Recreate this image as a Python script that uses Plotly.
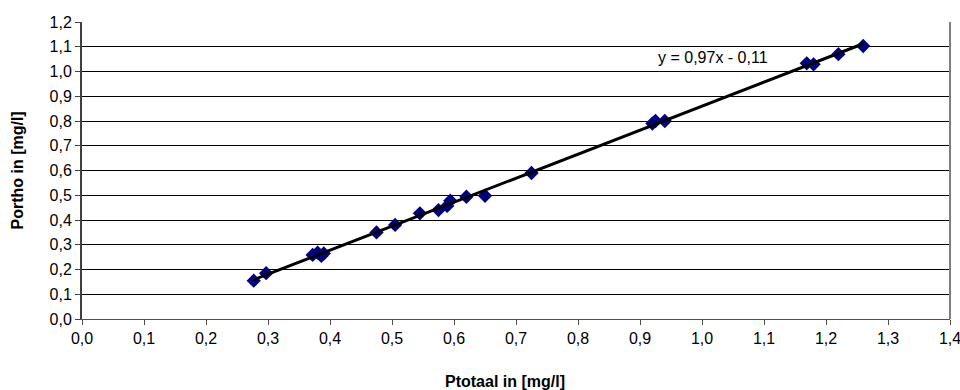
import plotly.graph_objects as go

# Measured total phosphorus vs. orthophosphate (mg/l)
ptotaal = [0.277, 0.297, 0.372, 0.38, 0.386, 0.39, 0.475, 0.505, 0.545, 0.575,
           0.589, 0.594, 0.62, 0.65, 0.725, 0.92, 0.925, 0.94, 1.169, 1.18,
           1.22, 1.26]
portho = [0.155, 0.185, 0.259, 0.268, 0.255, 0.265, 0.35, 0.38, 0.427, 0.44,
          0.457, 0.478, 0.494, 0.498, 0.59, 0.79, 0.8, 0.8, 1.033, 1.029,
          1.07, 1.103]

# Linear trend y = a*x + b
slope = 0.97
intercept = -0.11
trend_label = "y = 0,97x - 0,11"

x_title = "Ptotaal in [mg/l]"
y_title = "Portho in [mg/l]"

x_ticks = [i / 10 for i in range(0, 15)]
y_ticks = [i / 10 for i in range(0, 13)]

x_line = [min(ptotaal), max(ptotaal)]
y_line = [slope * v + intercept for v in x_line]

font = "Liberation Sans, Arial, sans-serif"

fig = go.Figure()
fig.add_trace(go.Scatter(
    x=ptotaal, y=portho, mode="markers",
    marker=dict(symbol="diamond", size=11, color="#000080",
                line=dict(width=0)),
    showlegend=False,
))
fig.add_trace(go.Scatter(
    x=x_line, y=y_line, mode="lines",
    line=dict(color="black", width=3),
    showlegend=False,
))

# trendline equation label
fig.add_annotation(
    x=1.018, y=1.055, xref="x", yref="y", text=trend_label, showarrow=False,
    xanchor="center", yanchor="middle",
    font=dict(family=font, size=16, color="black"),
)
# axis titles
fig.add_annotation(
    x=0.5, y=0, xref="paper", yref="paper", text="<b>%s</b>" % x_title,
    showarrow=False, xanchor="center", yanchor="middle",
    xshift=-11, yshift=-62,
    font=dict(family=font, size=16, color="black"),
)
fig.add_annotation(
    x=0, y=0.5, xref="paper", yref="paper", text="<b>%s</b>" % y_title,
    showarrow=False, xanchor="center", yanchor="middle", xshift=-65,
    textangle=-90, font=dict(family=font, size=16, color="black"),
)

fig.update_layout(
    width=960, height=390,
    margin=dict(l=82, r=10, t=22, b=71),
    paper_bgcolor="white", plot_bgcolor="white",
    separators=", ",
    font=dict(family=font, size=16, color="black"),
    xaxis=dict(
        range=[0, 1.4], tickvals=x_ticks, tickformat=".1f",
        showgrid=False, zeroline=False, automargin=False,
        ticklabeloverflow="allow",
        showline=True, linecolor="#505050", linewidth=1, mirror=False,
        ticks="outside", ticklen=5, tickcolor="#505050",
    ),
    yaxis=dict(
        range=[0, 1.2], tickvals=y_ticks, tickformat=".1f",
        showgrid=True, gridcolor="black", gridwidth=1, zeroline=False,
        automargin=False, ticklabeloverflow="allow",
        showline=True, linecolor="#404040", linewidth=2,
        ticks="outside", ticklen=5, tickcolor="#404040",
    ),
    shapes=[dict(type="line", xref="paper", yref="paper", x0=1, x1=1,
                 y0=0, y1=1, line=dict(color="#808080", width=2))],
)

fig.write_html("out.html")
